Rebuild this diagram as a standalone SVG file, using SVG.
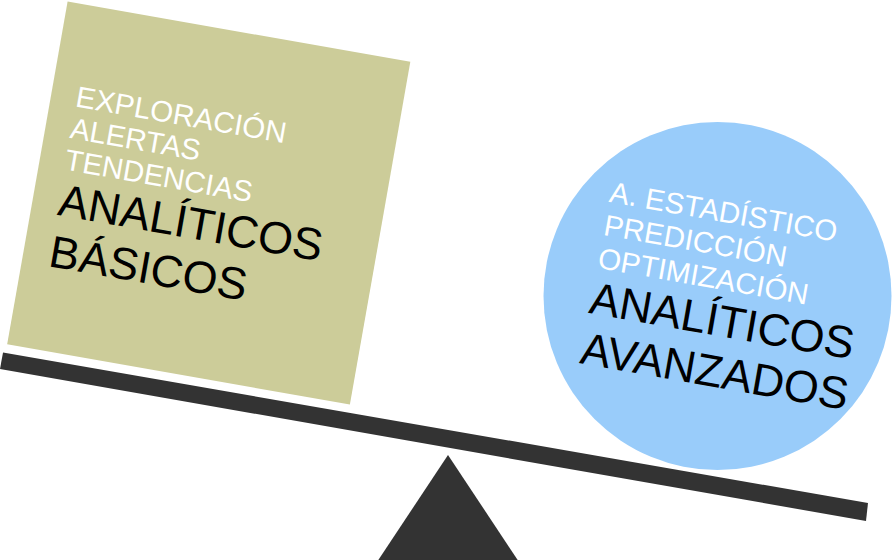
<svg xmlns="http://www.w3.org/2000/svg" width="893" height="560" viewBox="0 0 893 560">
<style>
.small{font-family:"Liberation Sans",Arial,sans-serif;font-size:29.5px;fill:#ffffff}
.big{font-family:"Liberation Sans",Arial,sans-serif;font-size:45px;fill:#000000}
.dark{fill:#333333}
</style>
<rect width="893" height="560" fill="#ffffff"/>
<g id="fulcrum">
<polygon class="dark" points="448,455 377,562 519,562"/>
</g>
<g id="beam">
<polygon class="dark" points="3,352.5 868,503 866,521 0,369"/>
</g>
<g id="basicos" transform="translate(208.75,203) rotate(10)">
<rect x="-174" y="-174" width="348" height="348" fill="#cccc99"/>
<text class="small" x="-149" y="-72">EXPLORACIÓN</text>
<text class="small" x="-149" y="-40">ALERTAS</text>
<text class="small" x="-149" y="-8">TENDENCIAS</text>
<text class="big" x="-148" y="38">ANALÍTICOS</text>
<text class="big" x="-148" y="90">BÁSICOS</text>
</g>
<g id="avanzados">
<circle cx="717.5" cy="296" r="174" fill="#99ccfa"/>
<g transform="translate(608.3,201.7) rotate(10)">
<text class="small" x="0" y="0">A. ESTADÍSTICO</text>
<text class="small" x="0" y="33.5">PREDICCIÓN</text>
<text class="small" x="0" y="67">OPTIMIZACIÓN</text>
<text class="big" x="-1" y="113">ANALÍTICOS</text>
<text class="big" x="-1" y="164">AVANZADOS</text>
</g>
</g>
</svg>
